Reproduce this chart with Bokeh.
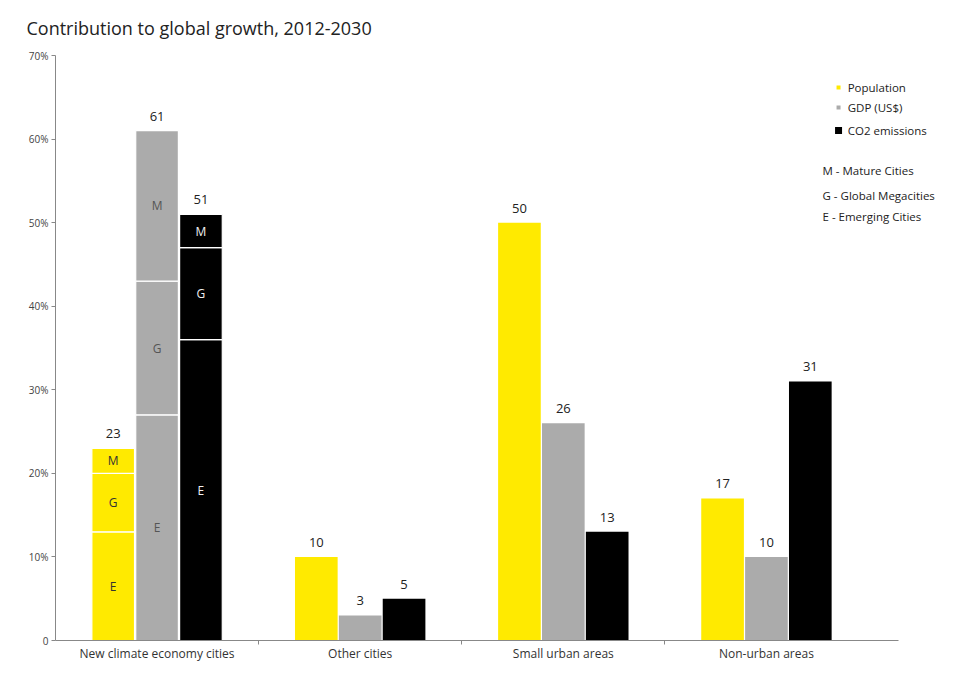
from bokeh.plotting import figure
from bokeh.models import ColumnDataSource, FixedTicker, Range1d, Label
from bokeh.core.properties import value
from bokeh.embed import file_html
from bokeh.resources import INLINE

# ---------------- data ----------------
categories = ["New climate economy cities", "Other cities", "Small urban areas", "Non-urban areas"]
series = ["Population", "GDP (US$)", "CO2 emissions"]
population = [23, 10, 50, 17]
gdp = [61, 3, 26, 10]
co2 = [51, 5, 13, 31]

# breakdown of "New climate economy cities" (bottom to top)
seg_names = ["E", "G", "M"]
pop_split = [13, 7, 3]
gdp_split = [27, 16, 18]
co2_split = [36, 11, 4]

y_ticks = [0, 10, 20, 30, 40, 50, 60, 70]
y_tick_labels = ["0", "10%", "20%", "30%", "40%", "50%", "60%", "70%"]

city_types = ["M - Mature Cities", "G - Global Megacities", "E - Emerging Cities"]

# ---------------- style ----------------
FONT = "Open Sans"
COLORS = ["#FFEA00", "#ABABAB", "#000000"]
SEG_TEXT = ["#333333", "#555555", "#F0F0F0"]
BAR_W = 0.21
OFFS = [-0.216, 0.0, 0.216]
X_END = 4.352      # frame reaches the right edge of the canvas
AXIS_END = 4.15    # x axis line stops here

p = figure(width=939, height=664, output_backend="svg", toolbar_location=None,
           x_range=Range1d(0, X_END), y_range=Range1d(0, 70),
           min_border_left=55, min_border_right=0, min_border_top=55, min_border_bottom=24)
p.outline_line_color = None
p.xgrid.grid_line_color = None
p.ygrid.grid_line_color = None
p.background_fill_color = "white"

p.title.text = "Contribution to global growth, 2012-2030"
p.title.text_font = FONT
p.title.text_font_size = "18px"
p.title.text_font_style = "normal"
p.title.text_color = "#222222"
p.title.align = "left"
p.title.vertical_align = "top"
p.title.offset = -29
p.title.standoff = 28

all_vals = [population, gdp, co2]
splits = [pop_split, gdp_split, co2_split]

# plain bars for categories other than the first
for s in range(3):
    xs = [i + 0.5 + OFFS[s] for i in range(1, len(categories))]
    tops = all_vals[s][1:]
    p.vbar(x=xs, top=tops, bottom=0, width=BAR_W, fill_color=COLORS[s], line_color=None)

# stacked segments for the first category
for s in range(3):
    bottoms, tops, mids = [], [], []
    acc = 0
    for v in splits[s]:
        bottoms.append(acc)
        tops.append(acc + v)
        mids.append(acc + v / 2)
        acc += v
    xc = 0.5 + OFFS[s]
    src = ColumnDataSource(dict(x=[xc] * 3, bottom=bottoms, top=tops, mid=mids, name=seg_names))
    p.vbar(x="x", bottom="bottom", top="top", width=BAR_W, source=src,
           fill_color=COLORS[s], line_color="white", line_width=1.2)
    p.text(x="x", y="mid", text="name", source=src, text_font=value(FONT),
           text_font_size="12px", text_color=SEG_TEXT[s], text_align="center",
           text_baseline="middle")

# value labels above bars
for s in range(3):
    xs = [i + 0.5 + OFFS[s] for i in range(len(categories))]
    src = ColumnDataSource(dict(x=xs, y=all_vals[s], t=[str(v) for v in all_vals[s]]))
    p.text(x="x", y="y", text="t", source=src, text_font=value(FONT),
           text_font_size="13px", text_color="#222222", text_align="center",
           text_baseline="bottom", y_offset=-10)

# legend markers and texts
leg_y = [66.17, 63.78, 61.03]
leg_sizes = [4, 4, 7]
for s in range(3):
    p.scatter(x=[3.855], y=[leg_y[s]], marker="square", size=leg_sizes[s],
              fill_color=COLORS[s], line_color=None)
    p.add_layout(Label(x=3.90, y=leg_y[s], text=series[s], text_font=FONT,
                       text_font_size="11.5px", text_color="#222222", text_baseline="middle"))
for k, t in enumerate(city_types):
    p.add_layout(Label(x=3.776, y=[56.24, 53.25, 50.74][k], text=t, text_font=FONT,
                       text_font_size="11.5px", text_color="#222222", text_baseline="middle"))

# axes
p.xaxis.bounds = (0, AXIS_END)
p.xaxis.ticker = FixedTicker(ticks=[i + 0.5 for i in range(len(categories))], minor_ticks=[1, 2, 3])
p.xaxis.major_label_overrides = {i + 0.5: c for i, c in enumerate(categories)}
p.xaxis.major_tick_in = 0
p.xaxis.major_tick_out = 0
p.xaxis.minor_tick_in = 0
p.xaxis.minor_tick_out = 4
p.xaxis.minor_tick_line_color = "#888888"
p.xaxis.axis_line_color = "#888888"
p.xaxis.major_label_text_font = FONT
p.xaxis.major_label_text_font_size = "12px"
p.xaxis.major_label_text_color = "#333333"
p.xaxis.major_label_standoff = 0
p.xaxis.axis_label_standoff = 0

p.yaxis.ticker = FixedTicker(ticks=y_ticks, minor_ticks=[])
p.yaxis.major_label_overrides = {t: l for t, l in zip(y_ticks, y_tick_labels)}
p.yaxis.major_tick_in = 0
p.yaxis.major_tick_out = 4
p.yaxis.major_tick_line_color = "#888888"
p.yaxis.axis_line_color = "#888888"
p.yaxis.major_label_text_font = FONT
p.yaxis.major_label_text_font_size = "10px"
p.yaxis.major_label_text_color = "#444444"
p.yaxis.major_label_standoff = 3

open("out.html", "w").write(file_html(p, INLINE))
